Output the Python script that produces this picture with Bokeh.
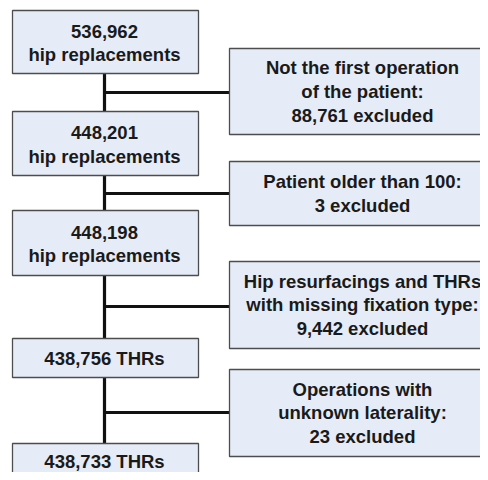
from bokeh.plotting import figure
from bokeh.embed import file_html
from bokeh.resources import INLINE
from bokeh.core.properties import value

# ---- data ----
remaining = ["536,962", "448,201", "448,198", "438,756", "438,733"]
units = ["hip replacements", "hip replacements", "hip replacements", "THRs", "THRs"]
reasons = ["Not the first operation\nof the patient:",
           "Patient older than 100:",
           "Hip resurfacings and THRs\nwith missing fixation type:",
           "Operations with\nunknown laterality:"]
excluded = ["88,761", "3", "9,442", "23"]

# ---- layout (pixel-like coordinates) ----
left_x0, left_x1, trunk_x = 12, 198, 104
right_x0, right_x1, right_cx = 229, 496, 362
left_top = [10, 111, 210, 338, 443]
left_bot = [73, 175, 275, 377, 484]
left_ty = [42.5, 144, 243.5, 357.5, 461]
right_top = [48, 161, 261, 369]
right_bot = [134, 225, 348, 456]
branch_y = [92, 193, 306, 412]

def lab_left(c, u):
    return f"{c} {u}" if u == "THRs" else f"{c}\n{u}"

left_text = [lab_left(c, u) for c, u in zip(remaining, units)]
right_text = [f"{r}\n{e} excluded" for r, e in zip(reasons, excluded)]

p = figure(width=480, height=472, x_range=(0, 480), y_range=(472, 0),
           output_backend="svg", toolbar_location=None, min_border=0)
p.axis.visible = False
p.grid.visible = False
p.outline_line_color = None

FILL = "#E6ECF7"
EDGE = "#4d4d4d"
FONT = value("Liberation Sans")

# connectors
p.segment(x0=[trunk_x]*4, x1=[trunk_x]*4, y0=left_bot[:4], y1=left_top[1:],
          line_color="#111111", line_width=3.2)
p.segment(x0=[trunk_x]*4, x1=[right_x0]*4, y0=branch_y, y1=branch_y,
          line_color="#111111", line_width=3.2)

# boxes
p.quad(left=[left_x0]*5, right=[left_x1]*5, top=left_top, bottom=left_bot,
       fill_color=FILL, line_color=EDGE, line_width=1.3)
p.quad(left=[right_x0]*4, right=[right_x1]*4, top=right_top, bottom=right_bot,
       fill_color=FILL, line_color=EDGE, line_width=1.3)

# texts
p.text(x=[trunk_x]*5, y=left_ty,
       text=left_text, text_font=FONT, text_font_style="bold", text_font_size="18.5px",
       text_align="center", text_baseline="middle", text_line_height=1.14, text_color="#1a1a1a")
p.text(x=[right_cx]*4, y=[(a + b) / 2 for a, b in zip(right_top, right_bot)],
       text=right_text, text_font=FONT, text_font_style="bold", text_font_size="18.5px",
       text_align="center", text_baseline="middle", text_line_height=1.14, text_color="#1a1a1a")

open("out.html", "w").write(file_html(p, INLINE))
